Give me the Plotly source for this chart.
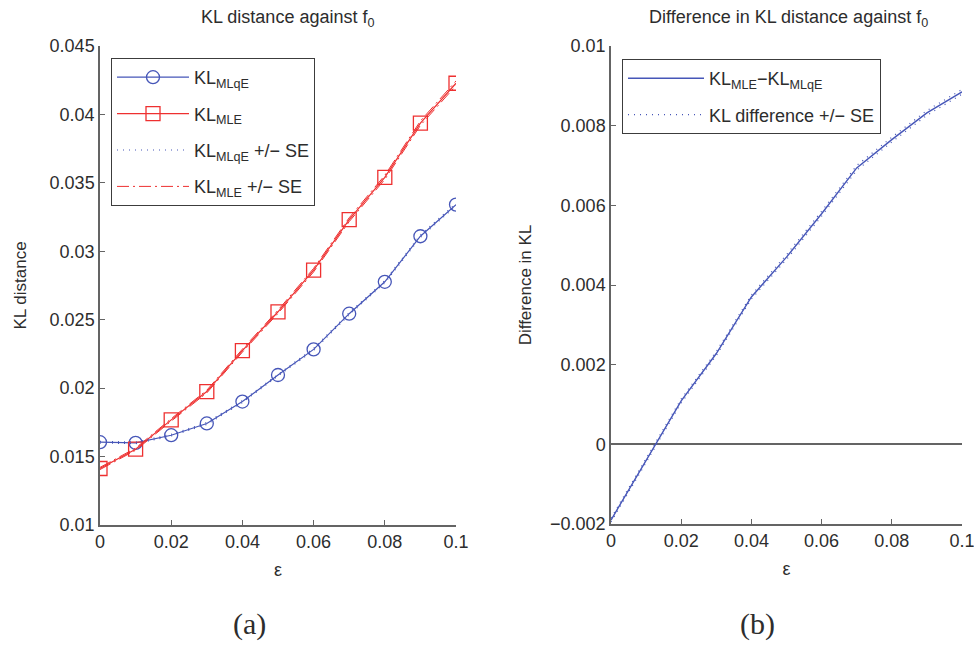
import plotly.graph_objects as go

# Contamination levels
eps = [0.0, 0.01, 0.02, 0.03, 0.04, 0.05, 0.06, 0.07, 0.08, 0.09, 0.10]

# Mean KL distance to f0 for each estimator
kl_mlqe = [0.01605, 0.01600, 0.01656, 0.01742, 0.01902, 0.02096,
           0.02283, 0.02544, 0.02777, 0.03110, 0.03341]
kl_mle = [0.01413, 0.01554, 0.01768, 0.01975, 0.02274, 0.02558,
          0.02862, 0.03231, 0.03540, 0.03936, 0.04228]

# Standard errors of the mean KL distances
se_mlqe = [0.00006, 0.00006, 0.00006, 0.00007, 0.00007, 0.00007,
           0.00008, 0.00008, 0.00008, 0.00009, 0.00009]
se_mle = [0.00008, 0.00008, 0.00009, 0.00010, 0.00011, 0.00012,
          0.00013, 0.00014, 0.00015, 0.00016, 0.00017]

# Difference KL_MLE - KL_MLqE and its standard error
kl_diff = [-0.00190, -0.00042, 0.00109, 0.00228, 0.00370, 0.00470,
           0.00579, 0.00694, 0.00765, 0.00832, 0.00885]
se_diff = [0.00005, 0.00005, 0.00005, 0.00005, 0.00005, 0.00006,
           0.00006, 0.00006, 0.00006, 0.00006, 0.00006]

# Tick labels
x_ticks = [0.0, 0.02, 0.04, 0.06, 0.08, 0.10]
x_ticktext = ["0", "0.02", "0.04", "0.06", "0.08", "0.1"]
ya_ticks = [0.01, 0.015, 0.02, 0.025, 0.03, 0.035, 0.04, 0.045]
ya_ticktext = ["0.01", "0.015", "0.02", "0.025", "0.03", "0.035", "0.04", "0.045"]
yb_ticks = [-0.002, 0.0, 0.002, 0.004, 0.006, 0.008, 0.01]
yb_ticktext = ["\u22120.002", "0", "0.002", "0.004", "0.006", "0.008", "0.01"]

BLUE = "rgb(70,86,184)"
RED = "rgb(238,48,48)"
AXIS = "rgb(100,100,100)"
TEXT = "rgb(45,45,45)"
FONT = "Liberation Sans, Arial, sans-serif"
SERIF = "Liberation Serif, DejaVu Serif, serif"

W, H = 974, 645


def px_x(p):
    return p / W


def px_y(p):
    return 1 - p / H


fig = go.Figure()

# ---- panel (a): KL distances ----
fig.add_trace(go.Scatter(
    x=eps, y=kl_mlqe, mode="lines+markers", name="KL<sub>MLqE</sub>",
    line=dict(color=BLUE, width=1.2),
    marker=dict(symbol="circle-open", size=13, color=BLUE, line=dict(width=1.3)),
    xaxis="x", yaxis="y", legend="legend"))
fig.add_trace(go.Scatter(
    x=eps, y=kl_mle, mode="lines+markers", name="KL<sub>MLE</sub>",
    line=dict(color=RED, width=1.2),
    marker=dict(symbol="square-open", size=14, color=RED, line=dict(width=1.3)),
    xaxis="x", yaxis="y", legend="legend"))

for sign, show in ((1, True), (-1, False)):
    fig.add_trace(go.Scatter(
        x=eps, y=[m + sign * s for m, s in zip(kl_mlqe, se_mlqe)],
        mode="lines", name="KL<sub>MLqE</sub> +/\u2212 SE",
        legendgroup="se_mlqe", showlegend=show,
        line=dict(color=BLUE, width=1.2, dash="1px,5px"),
        xaxis="x", yaxis="y", legend="legend"))
for sign, show in ((1, True), (-1, False)):
    fig.add_trace(go.Scatter(
        x=eps, y=[m + sign * s for m, s in zip(kl_mle, se_mle)],
        mode="lines", name="KL<sub>MLE</sub> +/\u2212 SE",
        legendgroup="se_mle", showlegend=show,
        line=dict(color=RED, width=1, dash="12px,4px,2px,4px"),
        xaxis="x", yaxis="y", legend="legend"))

# ---- panel (b): difference ----
fig.add_trace(go.Scatter(
    x=eps, y=kl_diff, mode="lines", name="KL<sub>MLE</sub>\u2212KL<sub>MLqE</sub>",
    line=dict(color=BLUE, width=1.4),
    xaxis="x2", yaxis="y2", legend="legend2"))
for sign, show in ((1, True), (-1, False)):
    fig.add_trace(go.Scatter(
        x=eps, y=[m + sign * s for m, s in zip(kl_diff, se_diff)],
        mode="lines", name="KL difference +/\u2212 SE",
        legendgroup="se_diff", showlegend=show,
        line=dict(color=BLUE, width=1.2, dash="1px,5px"),
        xaxis="x2", yaxis="y2", legend="legend2"))

axis_common = dict(
    showline=True, linecolor=AXIS, linewidth=1.5, mirror=False,
    ticks="inside", ticklen=5, tickcolor=AXIS, tickwidth=1.2,
    showgrid=False, automargin=False, ticklabeloverflow="allow",
    tickfont=dict(family=FONT, size=18, color=TEXT),
)

fig.update_layout(
    width=W, height=H,
    margin=dict(l=0, r=0, t=0, b=0),
    paper_bgcolor="white", plot_bgcolor="white",
    font=dict(family=FONT, color=TEXT),
    xaxis=dict(domain=[px_x(100), px_x(456)], range=[0, 0.1], anchor="y",
               tickmode="array", tickvals=x_ticks, ticktext=x_ticktext,
               title=dict(text="\u03b5", font=dict(size=18, family=FONT), standoff=12),
               zeroline=False, **axis_common),
    yaxis=dict(domain=[px_y(525), px_y(46)], range=[0.01, 0.045], anchor="x",
               tickmode="array", tickvals=ya_ticks, ticktext=ya_ticktext,
               title=dict(text="KL distance", font=dict(size=17, family=FONT), standoff=19),
               zeroline=False, **axis_common),
    xaxis2=dict(domain=[px_x(611), px_x(962)], range=[0, 0.1], anchor="y2",
                tickmode="array", tickvals=x_ticks, ticktext=x_ticktext,
                title=dict(text="\u03b5", font=dict(size=18, family=FONT), standoff=12),
                zeroline=False, **axis_common),
    yaxis2=dict(domain=[px_y(524), px_y(46)], range=[-0.002, 0.01], anchor="x2",
                tickmode="array", tickvals=yb_ticks, ticktext=yb_ticktext,
                title=dict(text="Difference in KL", font=dict(size=17, family=FONT), standoff=14),
                zeroline=True, zerolinecolor=AXIS, zerolinewidth=1.5, **axis_common),
    legend=dict(x=px_x(111), y=px_y(58), xanchor="left", yanchor="top",
                bgcolor="white", bordercolor="rgb(60,60,60)", borderwidth=1,
                font=dict(family=FONT, size=18, color=TEXT), itemwidth=72),
    legend2=dict(x=px_x(622), y=px_y(59), xanchor="left", yanchor="top",
                 bgcolor="white", bordercolor="rgb(60,60,60)", borderwidth=1,
                 font=dict(family=FONT, size=18, color=TEXT), itemwidth=76),
    showlegend=True,
)

# Panel titles and captions
fig.add_annotation(text="KL distance against f<sub>0</sub>", x=px_x(287), y=px_y(18),
                   xref="paper", yref="paper", xanchor="center", yanchor="middle",
                   showarrow=False, font=dict(family=FONT, size=18, color=TEXT))
fig.add_annotation(text="Difference in KL distance against f<sub>0</sub>", x=px_x(788), y=px_y(18),
                   xref="paper", yref="paper", xanchor="center", yanchor="middle",
                   showarrow=False, font=dict(family=FONT, size=18, color=TEXT))
fig.add_annotation(text="(a)", x=px_x(249), y=px_y(624), xref="paper", yref="paper",
                   xanchor="center", yanchor="middle",
                   showarrow=False, font=dict(family=SERIF, size=30, color=TEXT))
fig.add_annotation(text="(b)", x=px_x(757), y=px_y(624), xref="paper", yref="paper",
                   xanchor="center", yanchor="middle",
                   showarrow=False, font=dict(family=SERIF, size=30, color=TEXT))

fig.write_html("out.html")
